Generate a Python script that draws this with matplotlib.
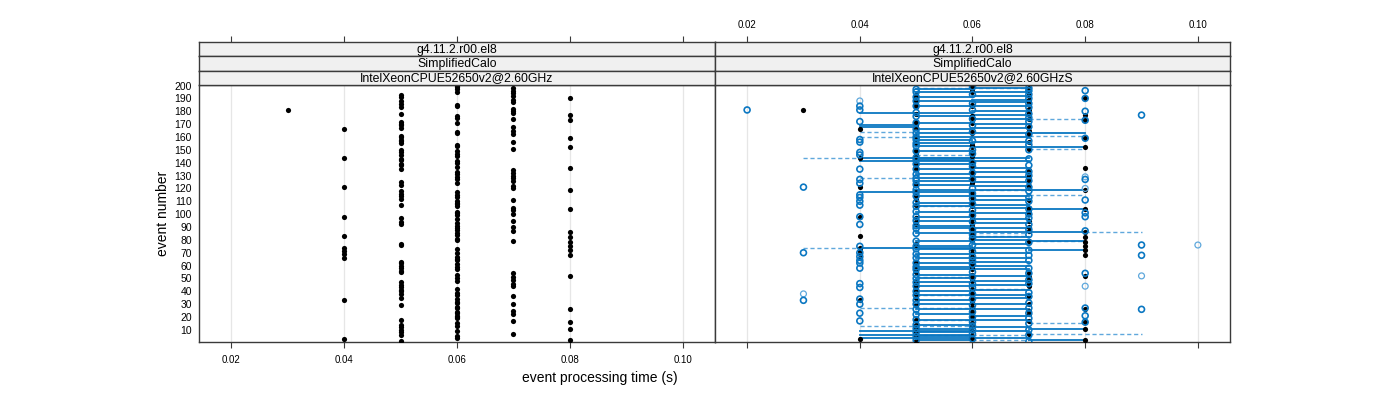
import matplotlib
matplotlib.use("Agg")
import matplotlib.pyplot as plt
import numpy as np

plt.rcParams['font.family'] = ['Liberation Sans', 'DejaVu Sans']

# ---------------- data ----------------
event_number = list(range(1, 201))
# reference processing time per event (ms), events 1..200
ref_ms = [50, 80, 40, 60, 60, 50, 70, 50, 60, 50,
          80, 50, 60, 50, 60, 80, 70, 50, 60, 60,
          60, 70, 60, 60, 70, 80, 60, 60, 50, 70,
          60, 60, 40, 60, 50, 70, 60, 50, 60, 50,
          50, 60, 50, 70, 50, 70, 50, 60, 70, 60,
          70, 80, 60, 70, 50, 50, 60, 50, 60, 50,
          60, 50, 50, 60, 60, 40, 60, 80, 40, 60,
          40, 80, 60, 40, 80, 50, 50, 80, 70, 60,
          60, 80, 40, 60, 60, 80, 70, 60, 60, 70,
          60, 50, 60, 50, 70, 60, 50, 40, 60, 70,
          60, 60, 70, 80, 70, 60, 50, 60, 60, 60,
          70, 50, 60, 50, 60, 50, 60, 50, 80, 70,
          40, 70, 50, 60, 50, 70, 60, 70, 60, 70,
          60, 70, 60, 70, 50, 80, 60, 50, 50, 60,
          60, 50, 50, 40, 60, 50, 60, 50, 60, 50,
          70, 80, 60, 60, 50, 70, 50, 50, 80, 50,
          50, 70, 60, 60, 70, 40, 50, 70, 50, 50,
          60, 50, 80, 70, 60, 60, 80, 50, 70, 70,
          30, 70, 50, 60, 60, 50, 70, 50, 70, 80,
          50, 70, 50, 70, 60, 70, 60, 70, 60, 60]

# comparison run "S" (open circles, dark blue): events per time value (ms)
cmp_20 = [181]
cmp_30 = [121, 70, 33]
cmp_40 = [184, 181, 172, 158, 156, 148, 146, 135, 127, 124, 115, 113, 110, 107, 98,
          92, 75, 70, 67, 64, 62, 58, 46, 43, 34, 30, 23, 17]
cmp_50 = [197, 195, 191, 188, 184, 179, 176, 171, 166, 163, 160, 158, 155, 153, 149,
          144, 142, 139, 135, 131, 128, 126, 123, 119, 117, 114, 109, 106, 102, 98,
          95, 91, 89, 85, 79, 75, 73, 69, 66, 62, 59, 57, 53, 50, 47, 44, 40, 37,
          33, 30, 26, 22, 18, 14, 11, 8, 5, 2]
cmp_60 = [199, 193, 186, 181, 174, 169, 164, 157, 150, 147, 140, 137, 132, 127, 120,
          116, 112, 108, 103, 99, 94, 88, 84, 81, 76, 71, 67, 64, 61, 55, 51, 46,
          43, 38, 34, 29, 24, 20, 16, 13, 10, 7, 3]
cmp_70 = [198, 196, 193, 190, 186, 183, 178, 175, 172, 168, 162, 157, 154, 150, 143,
          138, 133, 130, 126, 121, 118, 113, 110, 104, 100, 97, 92, 88, 84, 78, 72,
          68, 64, 58, 54, 49, 46, 39, 36, 31, 27, 23, 19, 15, 10, 6, 1]
cmp_80 = [196, 190, 180, 173, 159, 127, 111, 101, 98, 87, 54, 27, 21, 16]
cmp_90 = [177, 76, 68, 26]
# second comparison (light blue circles)
cmp2_event = [38, 188, 129, 120, 44, 52, 76]
cmp2_ms = [30, 40, 80, 80, 80, 90, 100]

# solid connecting segments, grouped by (from ms, to ms)
solid_40_50 = [179, 169, 168, 117]
solid_40_60 = [144, 141, 74, 9, 6, 4]
solid_50_60 = [197, 195, 191, 188, 184, 179, 176, 171, 166, 163, 160, 158, 155, 153,
               149, 144, 142, 139, 135, 131, 128, 126, 123, 119, 117, 114, 109, 106,
               102, 98, 95, 91, 89, 85, 79, 75, 73, 69, 66, 62, 59, 57, 53, 50, 47,
               44, 40, 37, 33, 30, 26, 22, 18, 14, 11, 8, 5, 2]
solid_60_70 = [198, 195, 192, 189, 187, 184, 180, 177, 174, 170, 167, 163, 160, 156,
               152, 144, 141, 136, 133, 129, 125, 122, 119, 114, 111, 107, 105, 101,
               96, 93, 89, 86, 82, 80, 77, 74, 70, 66, 63, 60, 57, 52, 48, 45, 41,
               37, 35, 30, 26, 21, 18, 12, 9, 4]
solid_70_80 = [163, 152, 119, 104, 86, 79, 72, 11, 2]
# dashed connecting segments
dash_30_40 = [144, 74]
dash_40_50 = [164, 160, 128]
dash_40_60 = [27, 13]
dash_50_60 = [146, 106, 51, 37, 18, 6]
dash_50_70 = [198]
dash_60_70 = [119, 85, 83, 42, 6, 2]
dash_70_80 = [174, 161, 151, 115, 79, 15, 7]
dash_80_90 = [86, 7]

strip_rows_left = ["g4.11.2.r00.el8", "SimplifiedCalo", "IntelXeonCPUE52650v2@2.60GHz"]
strip_rows_right = ["g4.11.2.r00.el8", "SimplifiedCalo", "IntelXeonCPUE52650v2@2.60GHzS"]
x_ticks = [0.02, 0.04, 0.06, 0.08, 0.10]
x_tick_labels = ["0.02", "0.04", "0.06", "0.08", "0.10"]
y_ticks = list(range(10, 201, 10))

# ---------------- layout ----------------
W, H = 1400, 400
fig = plt.figure(figsize=(14, 4), dpi=100)


def rect(x0, y0, x1, y1):
    return [x0 / W, 1 - y1 / H, (x1 - x0) / W, (y1 - y0) / H]


XLIM = (0.0143, 0.1057)
YLIM = (0.6, 200.4)
FRAME = '#3a3a3a'
BLUE = '#0a77c2'
LIGHT = '#5fa8dc'

panels = [(199, 715), (715, 1230)]
axes = []
for i, (x0, x1) in enumerate(panels):
    ax = fig.add_axes(rect(x0, 85, x1, 342))
    ax.set_xlim(*XLIM)
    ax.set_ylim(*YLIM)
    for s in ax.spines.values():
        s.set_color(FRAME)
        s.set_linewidth(1.0)
    for xt in x_ticks:
        ax.axvline(xt, color='#e6e6e6', lw=0.9, zorder=0)
    ax.set_xticks(x_ticks)
    ax.tick_params(axis='x', direction='out', length=4.5, width=0.8, color=FRAME,
                   labelsize=7, pad=5)
    if i == 0:
        ax.set_xticklabels(x_tick_labels)
        ax.set_yticks(y_ticks)
        ax.set_yticklabels([str(v) for v in y_ticks])
        ax.tick_params(axis='y', direction='out', length=0, labelsize=7.5, pad=5)
    else:
        ax.set_xticklabels([])
        ax.set_yticks([])
    axes.append(ax)

    # strips
    rows = strip_rows_left if i == 0 else strip_rows_right
    sh = 43.0 / 3
    for r, txt in enumerate(rows):
        sy0 = 42 + r * sh
        sax = fig.add_axes(rect(x0, sy0, x1, sy0 + sh))
        sax.set_facecolor('#f0f0f0')
        sax.set_xlim(*XLIM)
        sax.set_ylim(0, 1)
        for s in sax.spines.values():
            s.set_color(FRAME)
            s.set_linewidth(1.0)
        sax.set_yticks([])
        sax.text(0.5, 0.47, txt, transform=sax.transAxes, ha='center', va='center',
                 fontsize=8.8, color='black')
        if r == 0:
            sax.set_xticks(x_ticks)
            sax.xaxis.set_ticks_position('top')
            sax.tick_params(axis='x', direction='out', length=4.5, width=0.8, color=FRAME,
                            labelsize=7, pad=4)
            if i == 1:
                sax.xaxis.set_label_position('top')
                sax.set_xticklabels(x_tick_labels)
            else:
                sax.set_xticklabels([])
        else:
            sax.set_xticks([])

ev = np.array(event_number)
ref = np.array(ref_ms) / 1000.0

# left panel: reference dots
axes[0].scatter(ref, ev, s=14, color='black', linewidths=0, zorder=3)

# right panel
axr = axes[1]
dashed_groups = [(30, 40, dash_30_40), (40, 50, dash_40_50), (40, 60, dash_40_60),
                 (50, 60, dash_50_60), (50, 70, dash_50_70), (60, 70, dash_60_70),
                 (70, 80, dash_70_80), (80, 90, dash_80_90)]
solid_groups = [(40, 50, solid_40_50), (40, 60, solid_40_60), (50, 60, solid_50_60),
                (60, 70, solid_60_70), (70, 80, solid_70_80)]
for a, b, evs in dashed_groups:
    for e in evs:
        axr.plot([a / 1000, b / 1000], [e, e], color=LIGHT, lw=1.0, ls=(0, (3, 2)), zorder=2)
for a, b, evs in solid_groups:
    for e in evs:
        axr.plot([a / 1000, b / 1000], [e, e], color=BLUE, lw=1.3, zorder=2)

axr.scatter(ref, ev, s=14, color='black', linewidths=0, zorder=3)
axr.scatter(np.array(cmp2_ms) / 1000, cmp2_event, s=18, facecolors='none',
            edgecolors=LIGHT, linewidths=0.9, zorder=4)
cmp_groups = [(20, cmp_20), (30, cmp_30), (40, cmp_40), (50, cmp_50), (60, cmp_60),
              (70, cmp_70), (80, cmp_80), (90, cmp_90)]
for t, evs in cmp_groups:
    axr.scatter(np.full(len(evs), t / 1000), evs, s=18, facecolors='none',
                edgecolors=BLUE, linewidths=1.2, zorder=4)

fig.text(163 / W, 1 - 213.5 / H, "event number", rotation=90, ha='center', va='center',
         fontsize=10)
fig.text(600 / W, 1 - 378 / H, "event processing time (s)", ha='center', va='center',
         fontsize=10)

fig.savefig("out.png", dpi=100)
